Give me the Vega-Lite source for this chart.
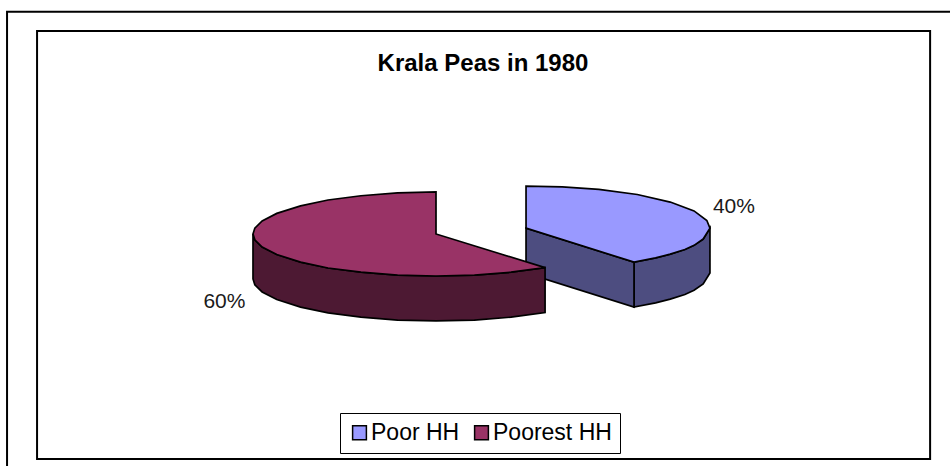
{"$schema":"https://vega.github.io/schema/vega-lite/v6.json","width":950,"height":466,"padding":0,"autosize":{"type":"none"},"background":"white","view":{"stroke":null},
"title":{"text":"Krala Peas in 1980","font":"Liberation Sans","fontSize":24,"fontWeight":"bold","color":"black","anchor":"middle","frame":"group","offset":-76,"dx":8},
"datasets":{"frames":[{"name":"outer","x":-2.344,"x2":3.0,"y":5.29,"y2":-6.0},{"name":"inner","x":-2.18,"x2":2.7,"y":4.83,"y2":-5.36}],
"labels":[{"slice":"Poor HH","share":40,"label":"40%","x":1.628,"y":0.64},{"slice":"Poorest HH","share":60,"label":"60%","x":-1.156,"y":-1.62}],
"outline":[
{"part":"a_curve","slice":"Poor HH","i":0,"x":1.082,"y":-0.67},{"part":"a_curve","slice":"Poor HH","i":1,"x":1.2,"y":-0.57},{"part":"a_curve","slice":"Poor HH","i":2,"x":1.28,"y":-0.48},{"part":"a_curve","slice":"Poor HH","i":3,"x":1.36,"y":-0.37},{"part":"a_curve","slice":"Poor HH","i":4,"x":1.41,"y":-0.27},{"part":"a_curve","slice":"Poor HH","i":5,"x":1.46,"y":-0.12},{"part":"a_curve","slice":"Poor HH","i":6,"x":1.497,"y":0.14},{"part":"a_curve","slice":"Poor HH","i":7,"x":1.497,"y":-0.93},{"part":"a_curve","slice":"Poor HH","i":8,"x":1.46,"y":-1.19},{"part":"a_curve","slice":"Poor HH","i":9,"x":1.41,"y":-1.34},{"part":"a_curve","slice":"Poor HH","i":10,"x":1.36,"y":-1.44},{"part":"a_curve","slice":"Poor HH","i":11,"x":1.28,"y":-1.55},{"part":"a_curve","slice":"Poor HH","i":12,"x":1.2,"y":-1.64},{"part":"a_curve","slice":"Poor HH","i":13,"x":1.082,"y":-1.74},
{"part":"b_cut","slice":"Poor HH","i":0,"x":0.492,"y":0.14},{"part":"b_cut","slice":"Poor HH","i":1,"x":1.082,"y":-0.67},{"part":"b_cut","slice":"Poor HH","i":2,"x":1.082,"y":-1.74},{"part":"b_cut","slice":"Poor HH","i":3,"x":0.492,"y":-0.93},
{"part":"c_side","slice":"Poorest HH","i":0,"x":-1,"y":0},{"part":"c_side","slice":"Poorest HH","i":1,"x":-0.99,"y":-0.14},{"part":"c_side","slice":"Poorest HH","i":2,"x":-0.95,"y":-0.31},{"part":"c_side","slice":"Poorest HH","i":3,"x":-0.87,"y":-0.49},{"part":"c_side","slice":"Poorest HH","i":4,"x":-0.74,"y":-0.67},{"part":"c_side","slice":"Poorest HH","i":5,"x":-0.59,"y":-0.81},{"part":"c_side","slice":"Poorest HH","i":6,"x":-0.41,"y":-0.91},{"part":"c_side","slice":"Poorest HH","i":7,"x":-0.21,"y":-0.98},{"part":"c_side","slice":"Poorest HH","i":8,"x":0,"y":-1},{"part":"c_side","slice":"Poorest HH","i":9,"x":0.21,"y":-0.98},{"part":"c_side","slice":"Poorest HH","i":10,"x":0.41,"y":-0.91},{"part":"c_side","slice":"Poorest HH","i":11,"x":0.596,"y":-0.8},{"part":"c_side","slice":"Poorest HH","i":12,"x":0.596,"y":-1.87},{"part":"c_side","slice":"Poorest HH","i":13,"x":0.41,"y":-1.98},{"part":"c_side","slice":"Poorest HH","i":14,"x":0.21,"y":-2.05},{"part":"c_side","slice":"Poorest HH","i":15,"x":0,"y":-2.07},{"part":"c_side","slice":"Poorest HH","i":16,"x":-0.21,"y":-2.05},{"part":"c_side","slice":"Poorest HH","i":17,"x":-0.41,"y":-1.98},{"part":"c_side","slice":"Poorest HH","i":18,"x":-0.59,"y":-1.88},{"part":"c_side","slice":"Poorest HH","i":19,"x":-0.74,"y":-1.74},{"part":"c_side","slice":"Poorest HH","i":20,"x":-0.87,"y":-1.56},{"part":"c_side","slice":"Poorest HH","i":21,"x":-0.95,"y":-1.38},{"part":"c_side","slice":"Poorest HH","i":22,"x":-0.99,"y":-1.21},{"part":"c_side","slice":"Poorest HH","i":23,"x":-1,"y":-1.07},
{"part":"d_top","slice":"Poor HH","i":0,"x":0.492,"y":0.14},{"part":"d_top","slice":"Poor HH","i":1,"x":0.492,"y":1.14},{"part":"d_top","slice":"Poor HH","i":2,"x":0.69,"y":1.12},{"part":"d_top","slice":"Poor HH","i":3,"x":0.89,"y":1.06},{"part":"d_top","slice":"Poor HH","i":4,"x":1.1,"y":0.94},{"part":"d_top","slice":"Poor HH","i":5,"x":1.28,"y":0.76},{"part":"d_top","slice":"Poor HH","i":6,"x":1.41,"y":0.55},{"part":"d_top","slice":"Poor HH","i":7,"x":1.48,"y":0.32},{"part":"d_top","slice":"Poor HH","i":8,"x":1.497,"y":0.14},{"part":"d_top","slice":"Poor HH","i":9,"x":1.46,"y":-0.12},{"part":"d_top","slice":"Poor HH","i":10,"x":1.41,"y":-0.27},{"part":"d_top","slice":"Poor HH","i":11,"x":1.36,"y":-0.37},{"part":"d_top","slice":"Poor HH","i":12,"x":1.28,"y":-0.48},{"part":"d_top","slice":"Poor HH","i":13,"x":1.2,"y":-0.57},{"part":"d_top","slice":"Poor HH","i":14,"x":1.082,"y":-0.67},
{"part":"e_top","slice":"Poorest HH","i":0,"x":0,"y":0},{"part":"e_top","slice":"Poorest HH","i":1,"x":0,"y":1},{"part":"e_top","slice":"Poorest HH","i":2,"x":-0.21,"y":0.98},{"part":"e_top","slice":"Poorest HH","i":3,"x":-0.41,"y":0.91},{"part":"e_top","slice":"Poorest HH","i":4,"x":-0.59,"y":0.81},{"part":"e_top","slice":"Poorest HH","i":5,"x":-0.74,"y":0.67},{"part":"e_top","slice":"Poorest HH","i":6,"x":-0.87,"y":0.49},{"part":"e_top","slice":"Poorest HH","i":7,"x":-0.95,"y":0.31},{"part":"e_top","slice":"Poorest HH","i":8,"x":-0.99,"y":0.14},{"part":"e_top","slice":"Poorest HH","i":9,"x":-1,"y":0},{"part":"e_top","slice":"Poorest HH","i":10,"x":-0.99,"y":-0.14},{"part":"e_top","slice":"Poorest HH","i":11,"x":-0.95,"y":-0.31},{"part":"e_top","slice":"Poorest HH","i":12,"x":-0.87,"y":-0.49},{"part":"e_top","slice":"Poorest HH","i":13,"x":-0.74,"y":-0.67},{"part":"e_top","slice":"Poorest HH","i":14,"x":-0.59,"y":-0.81},{"part":"e_top","slice":"Poorest HH","i":15,"x":-0.41,"y":-0.91},{"part":"e_top","slice":"Poorest HH","i":16,"x":-0.21,"y":-0.98},{"part":"e_top","slice":"Poorest HH","i":17,"x":0,"y":-1},{"part":"e_top","slice":"Poorest HH","i":18,"x":0.21,"y":-0.98},{"part":"e_top","slice":"Poorest HH","i":19,"x":0.41,"y":-0.91},{"part":"e_top","slice":"Poorest HH","i":20,"x":0.596,"y":-0.8}
]},
"data":{"name":"outline"},
"resolve":{"scale":{"fill":"independent"}},
"layer":[
{"data":{"name":"frames"},"mark":{"type":"rect","fill":"white","stroke":"black","strokeWidth":2},"encoding":{"x":{"field":"x","type":"quantitative","scale":{"domain":[-2.3825,2.8087],"nice":false,"zero":false},"axis":null},"x2":{"field":"x2"},"y":{"field":"y","type":"quantitative","scale":{"domain":[-5.524,5.571],"nice":false,"zero":false},"axis":null},"y2":{"field":"y2"}}},
{"transform":[{"filter":"indexof(['a_curve','b_cut','c_side'],datum.part)>=0"}],"mark":{"type":"line","stroke":"black","strokeWidth":1.7,"interpolate":"linear-closed"},"encoding":{"x":{"field":"x","type":"quantitative"},"y":{"field":"y","type":"quantitative"},"detail":{"field":"part"},"order":{"field":"i"},"fill":{"field":"slice","type":"nominal","scale":{"domain":["Poor HH","Poorest HH"],"range":["#4d4d80","#4d1933"]},"legend":null}}},
{"transform":[{"filter":"indexof(['d_top','e_top'],datum.part)>=0"}],"mark":{"type":"line","stroke":"black","strokeWidth":1.7,"interpolate":"linear-closed"},"encoding":{"x":{"field":"x","type":"quantitative"},"y":{"field":"y","type":"quantitative"},"detail":{"field":"part"},"order":{"field":"i"},"fill":{"field":"slice","type":"nominal","scale":{"domain":["Poor HH","Poorest HH"],"range":["#9999ff","#993366"]},"legend":{"title":null,"orient":"none","legendX":340,"legendY":413,"direction":"horizontal","fillColor":"white","strokeColor":"black","padding":8,"symbolType":"square","symbolSize":190,"symbolStrokeColor":"black","symbolStrokeWidth":1.5,"symbolOpacity":1,"labelFont":"Liberation Sans","labelFontSize":23,"labelColor":"black","columnPadding":10,"labelOffset":0}}}},
{"data":{"name":"labels"},"mark":{"type":"text","font":"Liberation Sans","fontSize":21,"color":"#1a1a1a"},"encoding":{"x":{"field":"x","type":"quantitative"},"y":{"field":"y","type":"quantitative"},"text":{"field":"label"}}}
]}
